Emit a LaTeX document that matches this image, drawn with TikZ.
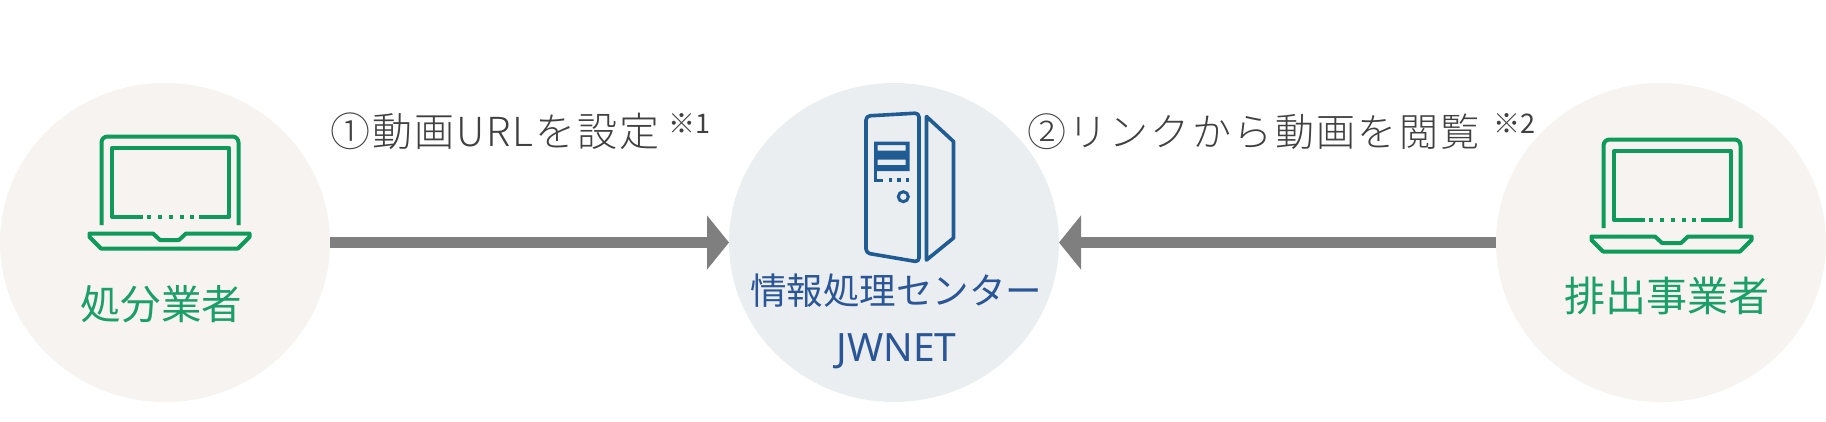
\documentclass[tikz,border=0pt]{standalone}
\usepackage{fontspec}
\usetikzlibrary{arrows.meta,shapes.geometric}
\newfontfamily\jp{Noto Sans CJK JP}
\newfontfamily\jpl{Noto Sans CJK JP Light}
\newfontfamily\latn{Noto Sans}
\definecolor{warm}{HTML}{F6F3F0}
\definecolor{cool}{HTML}{EBEEF1}
\definecolor{grn}{HTML}{0E9A5A}
\definecolor{grnt}{HTML}{1B9F68}
\definecolor{blu}{HTML}{2A5596}
\definecolor{srv}{HTML}{1F5C94}
\definecolor{arr}{HTML}{7F7F7F}
\definecolor{txt}{HTML}{404040}
\tikzset{
  disc/.style={ellipse,fill=#1,minimum width=330pt,minimum height=319pt,inner sep=0pt,outer sep=0pt},
  link/.style={draw=arr,line width=11pt,-{Triangle[length=22pt,width=53pt]}},
  label/.style={inner sep=0pt,outer sep=0pt,anchor=base},
  lap/.style={draw=grn,line width=4pt,line join=round},
  box/.style={draw=srv,line width=3.6pt,line join=round},
}
\newcommand{\laptop}[2]{%
\begin{scope}[shift={(#1,#2)}]
 \draw[lap,rounded corners=6pt] (101.5,225) -- (101.5,136.5) -- (238.5,136.5) -- (238.5,225);
 \draw[lap] (143,217) -- (112,217) -- (112,148) -- (229,148) -- (229,217) -- (199,217);
 \foreach \x in {149,160,171,182,192}{\fill[grn] (\x-1.8,215.2) rectangle (\x+1.8,218.8);}
 \draw[lap] (89.5,233.5) -- (153,233.5) -- (160,240) -- (179,240) -- (186,233.5) -- (249.5,233.5) -- (249.5,237) -- (238,248.5) -- (101,248.5) -- (89.5,237) -- cycle;
\end{scope}}
\begin{document}
\begin{tikzpicture}[x=1pt,y=-1pt]
\useasboundingbox (0,0) rectangle (1826,421);
\node[disc=warm] (a) at (165,242.5) {};
\node[disc=cool] (b) at (894,242.5) {};
\node[disc=warm] (c) at (1661,242.5) {};
\draw[link] (a.east) -- (b.west);
\draw[link] (c.west) -- (b.east);
\laptop{0}{0}
\laptop{1502}{3}
% server
\draw[box,rounded corners=4pt] (919,113) -- (866,116) -- (866,253) -- (919,262) -- cycle;
\draw[box] (926.5,116.5) -- (953.5,141.5) -- (953.5,238) -- (926.5,260) -- cycle;
\fill[srv,even odd rule] (874,141.5) rectangle (909.5,171) (877.5,145) rectangle (905.5,150.5) (877.5,159.5) rectangle (905.5,165);
\draw[srv,line width=3pt] (875.5,170) -- (875.5,180) -- (883,180);
\foreach \x in {890.5,899,907.5}{\fill[srv] (\x-1.7,178.3) rectangle (\x+1.7,181.7);}
\draw[srv,line width=3pt] (903.3,196.7) circle (5pt);
% labels
\node[label,text=grnt,font=\jp\fontsize{40.5}{40.5}\selectfont] (la) at (161,319) {処分業者};
\node[label,text=grnt,font=\jp\fontsize{41}{41}\selectfont] (lc) at (1666.5,311) {排出事業者};
\node[label,text=blu,font=\jp\fontsize{36.5}{36.5}\selectfont] (lb) at (896,304) {情報処理センター};
\node[label,text=blu,font=\latn\fontsize{39}{39}\selectfont] (ln) at (896.5,361) {JWNET};
\node[label,anchor=base west,text=txt,font=\jpl\fontsize{40}{40}\selectfont] (t1) at (330,146) {\addfontfeature{LetterSpace=5}①動画URLを設定};
\node[label,anchor=base west,text=txt,font=\jp\fontsize{27}{27}\selectfont] (s1) at (668,133) {※1};
\node[label,anchor=base west,text=txt,font=\jpl\fontsize{39}{39}\selectfont] (t2) at (1027,146) {\addfontfeature{LetterSpace=6}②リンクから動画を閲覧};
\node[label,anchor=base west,text=txt,font=\jp\fontsize{27}{27}\selectfont] (s2) at (1493,133) {※2};
\end{tikzpicture}
\end{document}
